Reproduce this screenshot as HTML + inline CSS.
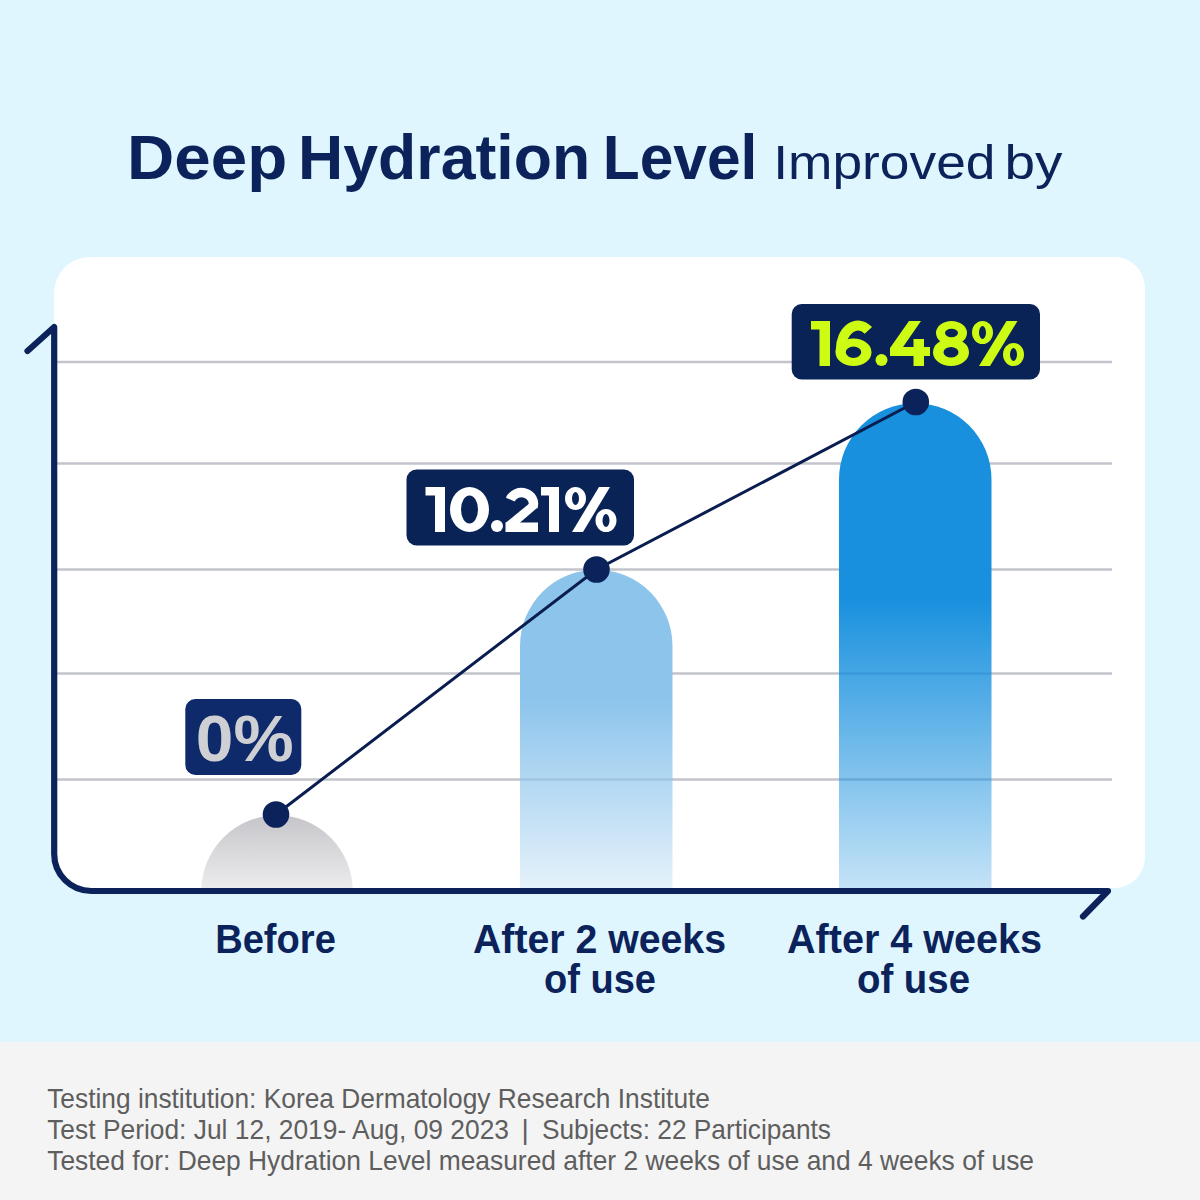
<!DOCTYPE html>
<html><head><meta charset="utf-8">
<style>
html,body{margin:0;padding:0;width:1200px;height:1200px;overflow:hidden;background:#e0f6fe;}
svg{display:block;font-family:"Liberation Sans",sans-serif;}
</style></head><body>
<svg width="1200" height="1200" viewBox="0 0 1200 1200">
<defs>
<linearGradient id="g0" x1="0" y1="0" x2="0" y2="1">
<stop offset="0" stop-color="#c6c6ca"/><stop offset="1" stop-color="#ededef"/>
</linearGradient>
<linearGradient id="g2" gradientUnits="userSpaceOnUse" x1="0" y1="570" x2="0" y2="890">
<stop offset="0" stop-color="#8cc4ec"/><stop offset="0.4" stop-color="#8cc4ec"/><stop offset="1" stop-color="#8cc4ec" stop-opacity="0.22"/>
</linearGradient>
<linearGradient id="g3" gradientUnits="userSpaceOnUse" x1="0" y1="403" x2="0" y2="890">
<stop offset="0" stop-color="#1890de"/><stop offset="0.4" stop-color="#1890de"/><stop offset="1" stop-color="#1890de" stop-opacity="0.25"/>
</linearGradient>
</defs>
<rect x="0" y="0" width="1200" height="1042" fill="#e0f6fe"/>
<rect x="0" y="1042" width="1200" height="158" fill="#f4f4f4"/>
<path d="M54 293 A36 36 0 0 1 90 257 L1114 257 A31 31 0 0 1 1145 288 L1145 857 A31 31 0 0 1 1114 888 L91.2 888 A35 35 0 0 1 56.2 854 L54 854 Z" fill="#ffffff"/>
<g stroke="#c2c4cc" stroke-width="2.4">
<line x1="57" y1="362" x2="1112" y2="362"/>
<line x1="57" y1="463.5" x2="1112" y2="463.5"/>
<line x1="57" y1="569.5" x2="1112" y2="569.5"/>
<line x1="57" y1="673.5" x2="1112" y2="673.5"/>
<line x1="57" y1="779.5" x2="1112" y2="779.5"/>
</g>
<path d="M201.3 891 A75.7 75.7 0 0 1 352.7 891 Z" fill="url(#g0)"/>
<path d="M520 891 L520 646 A76.25 76.25 0 0 1 672.5 646 L672.5 891 Z" fill="url(#g2)"/>
<path d="M839 891 L839 479.5 A76.25 76.25 0 0 1 991.5 479.5 L991.5 891 Z" fill="url(#g3)"/>
<path d="M27.5 351 L54.2 327 L54.2 854 A37 37 0 0 0 91.2 891 L1108 891 L1083 916.5" fill="none" stroke="#0b235a" stroke-width="6.2" stroke-linecap="round" stroke-linejoin="round"/>
<polyline points="276,814.5 596.5,569.5 915.8,402" fill="none" stroke="#0a1d50" stroke-width="3"/>
<circle cx="276" cy="814.5" r="13.3" fill="#0b235a"/>
<circle cx="596.5" cy="569.5" r="13.3" fill="#0b235a"/>
<circle cx="915.8" cy="402" r="13.3" fill="#0b235a"/>
<rect x="185.3" y="699" width="116" height="76" rx="10" fill="#0e2a6a"/>
<rect x="406.5" y="469.5" width="227.5" height="76" rx="10" fill="#0a2357"/>
<rect x="791.7" y="304" width="248.3" height="75.5" rx="10" fill="#0a2357"/>

<path d="M425.50 487.00 L445.00 487.00 L445.00 532.00 L435.00 532.00 L435.00 495.50 L425.50 495.50 Z" fill="#ffffff"/>
<path d="M450.00 509.50 A19.50 22.50 0 1 1 489.00 509.50 A19.50 22.50 0 1 1 450.00 509.50 Z M461.00 509.50 A8.50 14.00 0 1 1 478.00 509.50 A8.50 14.00 0 1 1 461.00 509.50 Z" fill="#ffffff" fill-rule="evenodd"/>
<path d="M491.00 526.00 A6.00 6.00 0 1 1 503.00 526.00 A6.00 6.00 0 1 1 491.00 526.00 Z" fill="#ffffff"/>
<path d="M510.27 499.53 A12.00 11.00 0 0 1 532.88 506.87" fill="none" stroke="#ffffff" stroke-width="9.5"/>
<path d="M529.03 503.70 L537.84 507.26 L519.50 523.00 L505.50 523.00 Z" fill="#ffffff"/>
<path d="M505.50 522.50 L538.00 522.50 L538.00 532.00 L505.50 532.00 Z" fill="#ffffff"/>
<path d="M541.00 487.00 L559.00 487.00 L559.00 532.00 L549.00 532.00 L549.00 495.50 L541.00 495.50 Z" fill="#ffffff"/>
<path d="M565.00 498.50 A10.50 11.50 0 1 1 586.00 498.50 A10.50 11.50 0 1 1 565.00 498.50 Z M572.00 498.50 A3.50 6.50 0 1 1 579.00 498.50 A3.50 6.50 0 1 1 572.00 498.50 Z" fill="#ffffff" fill-rule="evenodd"/>
<path d="M595.50 520.50 A10.50 11.50 0 1 1 616.50 520.50 A10.50 11.50 0 1 1 595.50 520.50 Z M602.50 520.50 A3.50 6.50 0 1 1 609.50 520.50 A3.50 6.50 0 1 1 602.50 520.50 Z" fill="#ffffff" fill-rule="evenodd"/>
<path d="M599.00 487.00 L610.00 487.00 L583.00 532.00 L572.00 532.00 Z" fill="#ffffff"/>
<path d="M811.00 321.00 L830.00 321.00 L830.00 366.00 L819.50 366.00 L819.50 329.50 L811.00 329.50 Z" fill="#cdfb14"/>
<path d="M835.50 352.25 A18.00 13.75 0 1 1 871.50 352.25 A18.00 13.75 0 1 1 835.50 352.25 Z M845.75 352.25 A7.75 5.75 0 1 1 861.25 352.25 A7.75 5.75 0 1 1 845.75 352.25 Z" fill="#cdfb14" fill-rule="evenodd"/>
<path d="M840.75 352.00 L840.75 350.00 A17.25 24.50 0 0 1 868.38 330.43" fill="none" stroke="#cdfb14" stroke-width="10"/>
<path d="M875.50 360.00 A6.00 6.00 0 1 1 887.50 360.00 A6.00 6.00 0 1 1 875.50 360.00 Z" fill="#cdfb14"/>
<path d="M909.00 321.00 L921.00 321.00 L903.00 347.00 L930.00 347.00 L930.00 356.00 L890.00 356.00 L890.00 348.00 Z M913.50 339.00 L924.00 339.00 L924.00 366.00 L913.50 366.00 Z" fill="#cdfb14"/>
<path d="M936.00 333.00 A15.50 12.00 0 1 1 967.00 333.00 A15.50 12.00 0 1 1 936.00 333.00 Z M945.00 333.00 A6.50 4.20 0 1 1 958.00 333.00 A6.50 4.20 0 1 1 945.00 333.00 Z" fill="#cdfb14" fill-rule="evenodd"/>
<path d="M933.00 352.25 A18.00 13.75 0 1 1 969.00 352.25 A18.00 13.75 0 1 1 933.00 352.25 Z M943.50 352.25 A7.50 5.20 0 1 1 958.50 352.25 A7.50 5.20 0 1 1 943.50 352.25 Z" fill="#cdfb14" fill-rule="evenodd"/>
<path d="M972.00 332.50 A10.50 11.50 0 1 1 993.00 332.50 A10.50 11.50 0 1 1 972.00 332.50 Z M979.00 332.50 A3.50 6.50 0 1 1 986.00 332.50 A3.50 6.50 0 1 1 979.00 332.50 Z" fill="#cdfb14" fill-rule="evenodd"/>
<path d="M1003.00 354.50 A10.50 11.50 0 1 1 1024.00 354.50 A10.50 11.50 0 1 1 1003.00 354.50 Z M1010.00 354.50 A3.50 6.50 0 1 1 1017.00 354.50 A3.50 6.50 0 1 1 1010.00 354.50 Z" fill="#cdfb14" fill-rule="evenodd"/>
<path d="M1006.50 321.00 L1017.50 321.00 L990.00 366.00 L979.00 366.00 Z" fill="#cdfb14"/>
<text x="127.02" y="179" font-size="63.5" font-weight="700" fill="#0b235a" textLength="160.13" lengthAdjust="spacingAndGlyphs">Deep</text>
<text x="298.09" y="179" font-size="63.5" font-weight="700" fill="#0b235a" textLength="292.03" lengthAdjust="spacingAndGlyphs">Hydration</text>
<text x="602.76" y="179" font-size="63.5" font-weight="700" fill="#0b235a" textLength="154.68" lengthAdjust="spacingAndGlyphs">Level</text>
<text x="773.24" y="178.6" font-size="48" font-weight="400" fill="#0b235a" textLength="222.27" lengthAdjust="spacingAndGlyphs">Improved</text>
<text x="1004.47" y="178.6" font-size="48" font-weight="400" fill="#0b235a" textLength="57.98" lengthAdjust="spacingAndGlyphs">by</text>
<text x="195.88" y="761" font-size="65" font-weight="700" fill="#cfd0d4" textLength="97.81" lengthAdjust="spacingAndGlyphs">0%</text>
<text x="215.13" y="953" font-size="40" font-weight="700" fill="#0b235a" textLength="120.70" lengthAdjust="spacingAndGlyphs">Before</text>
<text x="472.98" y="953" font-size="40" font-weight="700" fill="#0b235a" textLength="253.04" lengthAdjust="spacingAndGlyphs">After 2 weeks</text>
<text x="543.98" y="992.5" font-size="40" font-weight="700" fill="#0b235a" textLength="112.06" lengthAdjust="spacingAndGlyphs">of use</text>
<text x="786.99" y="953" font-size="40" font-weight="700" fill="#0b235a" textLength="255.04" lengthAdjust="spacingAndGlyphs">After 4 weeks</text>
<text x="856.96" y="992.5" font-size="40" font-weight="700" fill="#0b235a" textLength="113.06" lengthAdjust="spacingAndGlyphs">of use</text>
<text x="47.20" y="1107.7" font-size="28" font-weight="400" fill="#5e5e5e" textLength="662.81" lengthAdjust="spacingAndGlyphs">Testing institution: Korea Dermatology Research Institute</text>
<text x="47.19" y="1138.7" font-size="28" font-weight="400" fill="#5e5e5e" textLength="461.81" lengthAdjust="spacingAndGlyphs">Test Period: Jul 12, 2019- Aug, 09 2023</text>
<text x="521.50" y="1138.7" font-size="28" font-weight="400" fill="#5e5e5e">|</text>
<text x="541.99" y="1138.7" font-size="28" font-weight="400" fill="#5e5e5e" textLength="289.02" lengthAdjust="spacingAndGlyphs">Subjects: 22 Participants</text>
<text x="47.20" y="1169.7" font-size="28" font-weight="400" fill="#5e5e5e" textLength="986.81" lengthAdjust="spacingAndGlyphs">Tested for: Deep Hydration Level measured after 2 weeks of use and 4 weeks of use</text>
</svg>
</body></html>
